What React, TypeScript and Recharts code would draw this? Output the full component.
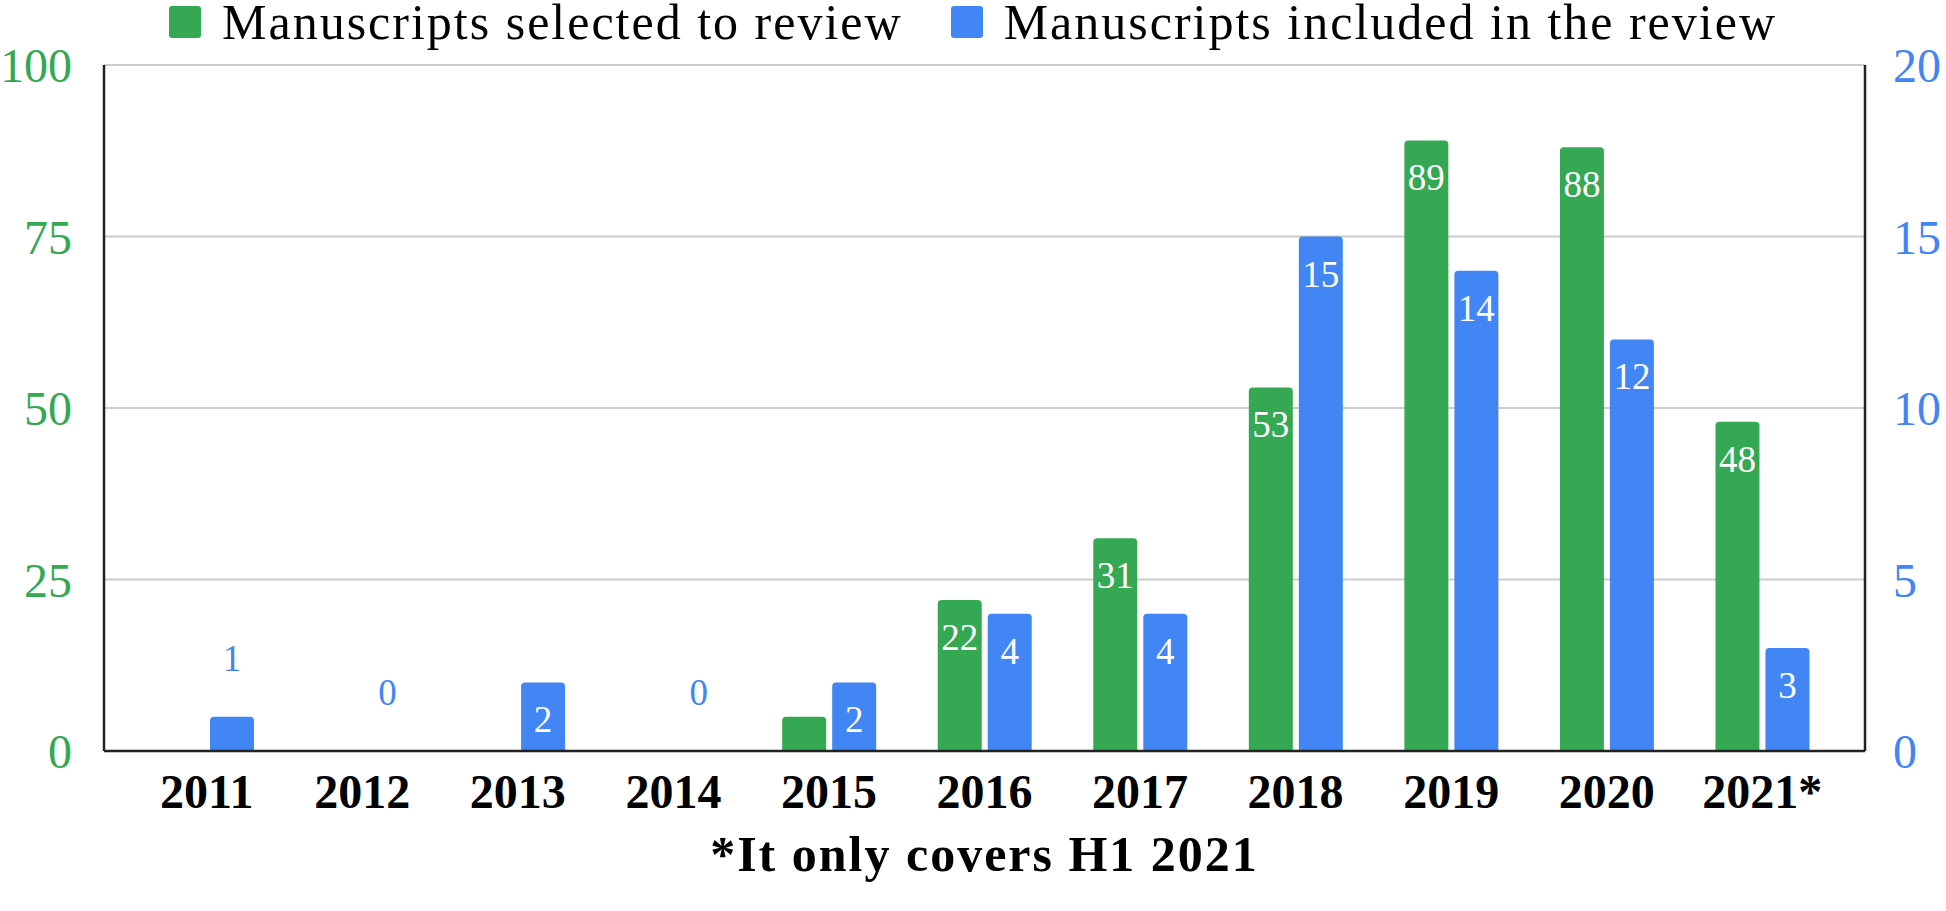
import React from "react";
import {
  BarChart,
  Bar,
  XAxis,
  YAxis,
  CartesianGrid,
  Legend,
  LabelList,
  Label,
} from "recharts";

const years = ["2011", "2012", "2013", "2014", "2015", "2016", "2017", "2018", "2019", "2020", "2021*"];
const selected = [0, 0, 0, 0, 5, 22, 31, 53, 89, 88, 48];
const included = [1, 0, 2, 0, 2, 4, 4, 15, 14, 12, 3];
const leftTicks = [0, 25, 50, 75, 100];
const rightTicks = [0, 5, 10, 15, 20];
const seriesNames = ["Manuscripts selected to review", "Manuscripts included in the review"];

const GREEN = "#34a853";
const BLUE = "#4285f4";
const FONT = "'Liberation Serif', 'Times New Roman', serif";

const data = years.map((year, i) => ({
  year,
  selected: selected[i],
  included: included[i],
}));

// labels go inside the bar when it is tall enough, otherwise above (blue only)
const makeLabel = (color: string, showOutside: boolean) => (props: any) => {
  const { x, y, width, height, value } = props;
  const cx = Number(x) + Number(width) / 2;
  if (Number(height) >= 60) {
    return (
      <text x={cx} y={Number(y) + 50} textAnchor="middle" fill="#fff" fontSize={37} fontFamily={FONT}>
        {value}
      </text>
    );
  }
  if (!showOutside) return null;
  return (
    <text x={cx} y={Number(y) - 46} textAnchor="middle" fill={color} fontSize={37} fontFamily={FONT}>
      {value}
    </text>
  );
};

const renderLegend = (props: any) => {
  const items = [...(props.payload || [])].sort(
    (a: any, b: any) => seriesNames.indexOf(a.value) - seriesNames.indexOf(b.value)
  );
  return (
    <div style={{ display: "flex", justifyContent: "center", alignItems: "center", height: 40, gap: 48 }}>
      {items.map((entry: any) => (
        <div key={entry.value} style={{ display: "flex", alignItems: "center" }}>
          <div style={{ width: 32, height: 32, background: entry.color, borderRadius: 3, marginRight: 21 }} />
          <span style={{ fontFamily: FONT, fontSize: 50, lineHeight: "40px", letterSpacing: 2, color: "#000" }}>
            {entry.value}
          </span>
        </div>
      ))}
    </div>
  );
};

const Footnote = (props: any) => {
  const { viewBox } = props;
  return (
    <text
      x={viewBox.x + viewBox.width / 2}
      y={viewBox.y + 120}
      textAnchor="middle"
      fontFamily={FONT}
      fontWeight="bold"
      fontSize={50}
      letterSpacing={2}
      fill="#000"
    >
      *It only covers H1 2021
    </text>
  );
};

export default function App() {
  return (
    <div style={{ position: "absolute", left: 0, top: 0, background: "#fff" }}>
      <BarChart
        width={1946}
        height={911}
        data={data}
        margin={{ top: 65, right: 0, bottom: 0, left: 0 }}
        barSize={44}
        barGap={6}
      >
        <CartesianGrid yAxisId="left" vertical={false} stroke="#cccccc" strokeWidth={2} />
        <XAxis
          dataKey="year"
          height={160}
          padding={{ left: 25, right: 25 }}
          tickSize={0}
          tickMargin={23}
          axisLine={{ stroke: "#222", strokeWidth: 2.5 }}
          tick={{ fill: "#000", fontSize: 48, fontFamily: FONT, fontWeight: "bold" }}
        >
          <Label content={<Footnote />} />
        </XAxis>
        <YAxis
          yAxisId="left"
          orientation="left"
          width={104}
          domain={[0, 100]}
          ticks={leftTicks}
          tickSize={0}
          tickMargin={32}
          axisLine={{ stroke: "#222", strokeWidth: 2.5 }}
          tick={{ fill: GREEN, fontSize: 48, fontFamily: FONT }}
        />
        <YAxis
          yAxisId="right"
          orientation="right"
          width={81}
          domain={[0, 20]}
          ticks={rightTicks}
          tickSize={0}
          tickMargin={28}
          axisLine={{ stroke: "#222", strokeWidth: 2.5 }}
          tick={{ fill: BLUE, fontSize: 48, fontFamily: FONT }}
        />
        <Legend
          verticalAlign="middle"
          align="center"
          content={renderLegend}
          wrapperStyle={{ top: 2, left: 0, width: 1946, height: 40 }}
        />
        <Bar
          yAxisId="left"
          dataKey="selected"
          name={seriesNames[0]}
          fill={GREEN}
          radius={[4, 4, 0, 0]}
          isAnimationActive={false}
        >
          <LabelList dataKey="selected" content={makeLabel(GREEN, false)} />
        </Bar>
        <Bar
          yAxisId="right"
          dataKey="included"
          name={seriesNames[1]}
          fill={BLUE}
          radius={[4, 4, 0, 0]}
          minPointSize={(v: number) => (v === 0 ? 0.01 : 0)}
          isAnimationActive={false}
        >
          <LabelList dataKey="included" content={makeLabel(BLUE, true)} />
        </Bar>
      </BarChart>
    </div>
  );
}
